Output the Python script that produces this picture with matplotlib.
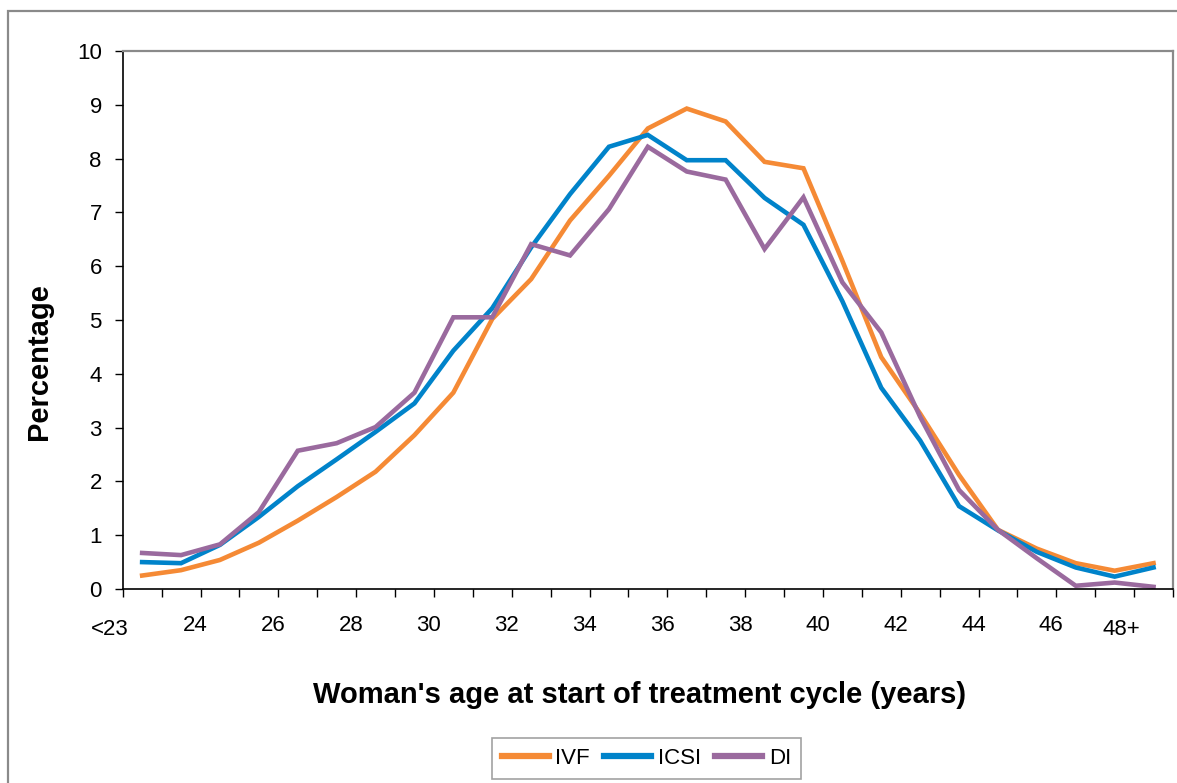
import matplotlib
matplotlib.use("Agg")
import matplotlib.pyplot as plt
import matplotlib.transforms as mtransforms
from matplotlib.patches import Rectangle
import numpy as np

plt.rcParams['font.family'] = ['Liberation Sans', 'DejaVu Sans']

# categories: <23, 23 .. 47, 48+
ages = ['<23'] + [str(a) for a in range(23, 48)] + ['48+']

ivf = [0.25, 0.35, 0.54, 0.86, 1.27, 1.71, 2.18, 2.86, 3.65, 5.02,
       5.76, 6.85, 7.68, 8.56, 8.93, 8.69, 7.94, 7.82, 6.10, 4.31,
       3.26, 2.12, 1.10, 0.75, 0.48, 0.34, 0.48]
icsi = [0.50, 0.48, 0.82, 1.34, 1.91, 2.41, 2.92, 3.45, 4.43, 5.22,
        6.35, 7.34, 8.22, 8.44, 7.97, 7.97, 7.27, 6.77, 5.35, 3.74,
        2.76, 1.54, 1.09, 0.69, 0.40, 0.23, 0.40]
di = [0.67, 0.63, 0.83, 1.43, 2.57, 2.71, 3.01, 3.65, 5.05, 5.05,
      6.41, 6.20, 7.06, 8.22, 7.76, 7.61, 6.32, 7.28, 5.70, 4.77,
      3.20, 1.84, 1.10, 0.57, 0.06, 0.12, 0.04]

series_names = ['IVF', 'ICSI', 'DI']
colours = ['#F58A35', '#0083CA', '#9A6A9E']

W, H = 1177, 783
fig = plt.figure(figsize=(W / 100, H / 100), dpi=100)

# outer chart frame (cut at right and bottom like the original)
fig.patches.append(Rectangle((8 / W, -0.05), 1.1, 1 - 10.5 / H + 0.05,
                             transform=fig.transFigure, fill=False,
                             edgecolor='#8a8a8a', linewidth=1.6))

ax = fig.add_axes([122.7 / W, 1 - 589 / H, (1173 - 122.7) / W, (589 - 51) / H])

x = np.arange(len(ages)) + 0.5
for vals, name, col in zip([ivf, icsi, di], series_names, colours):
    ax.plot(x, vals, color=col, linewidth=3.3, label=name,
            solid_joinstyle='miter')

ax.set_xlim(0, len(ages))
ax.set_ylim(0, 10)
ax.set_yticks(range(0, 11))
ax.set_xticks(range(0, len(ages) + 1))
# labels on every second tick: <23, 24, 26 ... 46, 48+
xlabels = [''] * (len(ages) + 1)
for i in range(0, len(ages), 2):
    xlabels[i] = str(22 + i)
xlabels[0] = ages[0]
xlabels[26] = ages[-1]
ax.set_xticklabels(xlabels)

ax.tick_params(axis='both', direction='out', length=6, width=1,
               labelsize=16, color='black')
ax.tick_params(axis='y', pad=9)
ax.tick_params(axis='x', pad=13)

# small shifts of the category labels, as drawn in the original
for i, lab in enumerate(ax.get_xticklabels()):
    dx, dy = -5, 0
    if i == 0 or i == 26:
        dx, dy = -12.5, -4
    off = mtransforms.ScaledTranslation(dx / 100, dy / 100, fig.dpi_scale_trans)
    lab.set_transform(lab.get_transform() + off)

for side in ['left', 'bottom']:
    ax.spines[side].set_color('black')
    ax.spines[side].set_linewidth(1.2)
for side in ['top', 'right']:
    ax.spines[side].set_color('#8a8a8a')
    ax.spines[side].set_linewidth(1.6)

fig.text(640 / W, 1 - 695 / H, "Woman's age at start of treatment cycle (years)",
         ha='center', va='center', fontsize=21, fontweight='bold')
fig.text(39 / W, 1 - 362 / H, 'Percentage', rotation=90,
         ha='center', va='center', fontsize=21, fontweight='bold')

leg = fig.legend(loc='upper center', bbox_to_anchor=(646.5 / W, 1 - 738 / H),
                 ncol=3, fontsize=16, frameon=True, fancybox=False,
                 handlelength=2.1, handletextpad=0.3, columnspacing=0.65,
                 borderpad=0.45, borderaxespad=0)
leg.get_frame().set_edgecolor('#8a8a8a')
leg.get_frame().set_linewidth(1.2)
for h in leg.get_lines():
    h.set_linewidth(4.5)

fig.savefig('out.png', dpi=100)
